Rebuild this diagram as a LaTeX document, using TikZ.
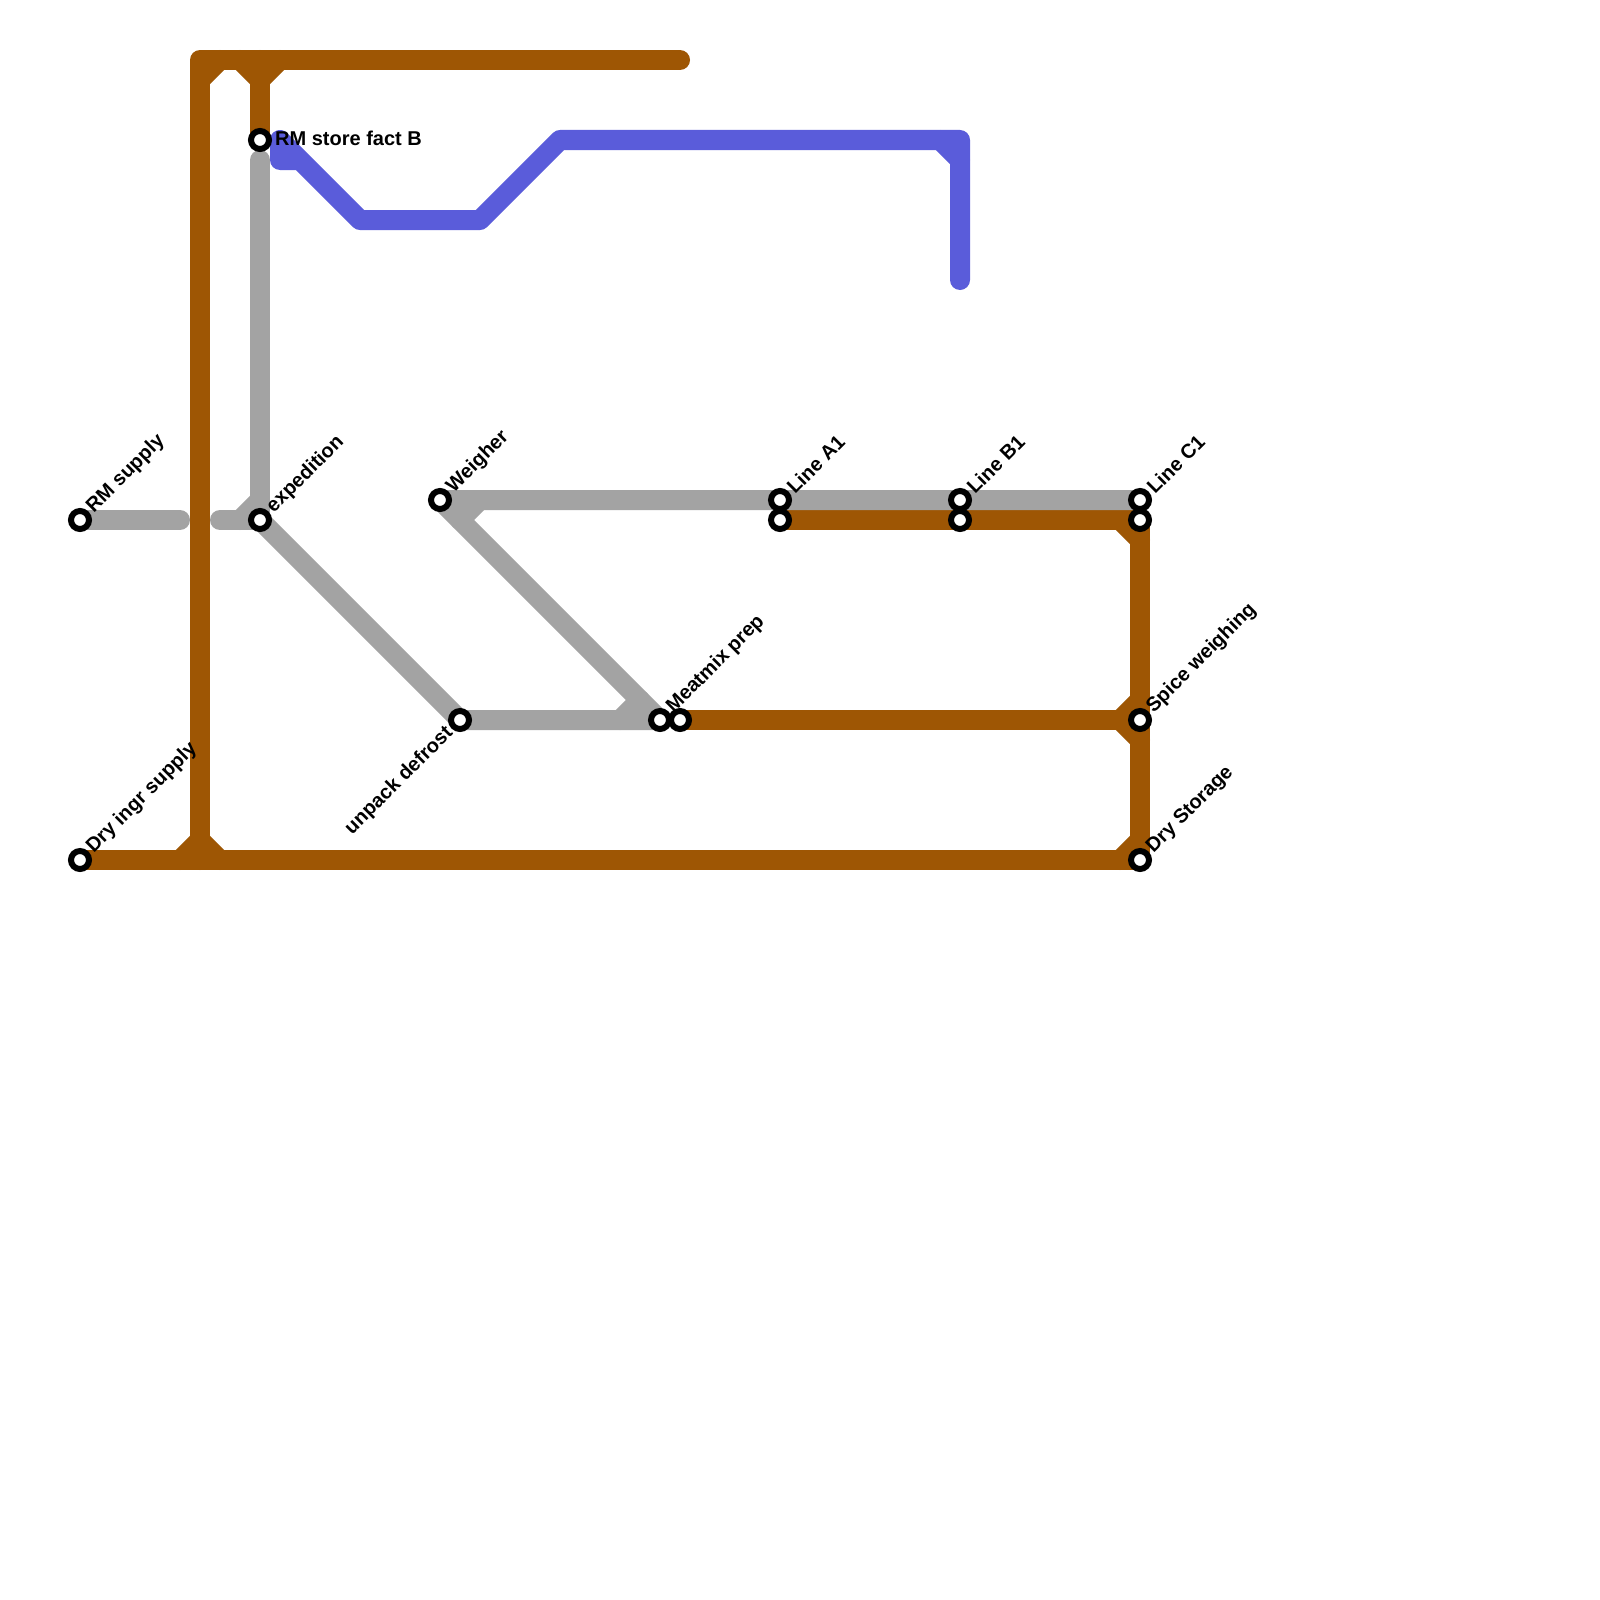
\documentclass[tikz,border=0pt]{standalone}
\usepackage{fontspec}
\setmainfont{Liberation Sans}
\tikzset{
  metro/.style={line width=20pt,line cap=round,line join=round},
  brownline/.style={metro,draw=linebrown},
  greyline/.style={metro,draw=linegrey},
  blueline/.style={metro,draw=lineblue},
  station/.style={circle,draw=black,fill=white,line width=6pt,minimum size=18pt,inner sep=0pt,outer sep=0pt},
  lbl/.style={font=\fontsize{20}{22}\selectfont\bfseries,inner sep=0pt,text=black},
  up/.style={lbl,anchor=west,rotate=45},
}
\definecolor{linebrown}{HTML}{9E5604}
\definecolor{linegrey}{HTML}{A3A3A3}
\definecolor{lineblue}{HTML}{5A5CDA}
\begin{document}
\begin{tikzpicture}[x=1pt,y=-1pt]
\useasboundingbox[fill=white] (0,0) rectangle (1600,1600);
% station positions
\coordinate (RMsupply) at (80,520);
\coordinate (RMstore) at (260,140);
\coordinate (expedition) at (260,520);
\coordinate (weigher) at (440,500);
\coordinate (unpack) at (460,720);
\coordinate (meatG) at (660,720);
\coordinate (meatB) at (680,720);
\coordinate (A1G) at (780,500);
\coordinate (A1B) at (780,520);
\coordinate (B1G) at (960,500);
\coordinate (B1B) at (960,520);
\coordinate (C1G) at (1140,500);
\coordinate (C1B) at (1140,520);
\coordinate (spice) at (1140,720);
\coordinate (dryS) at (1140,860);
\coordinate (dryI) at (80,860);
% brown line vertices
\coordinate (tl) at (200,60);
\coordinate (tr) at (680,60);
\coordinate (bv) at (200,860);
\coordinate (tj) at (260,60);
\coordinate (d1a) at (200,80);
\coordinate (d1b) at (220,60);
\coordinate (d2a) at (240,60);
\coordinate (d2b) at (260,80);
\coordinate (d3b) at (280,60);
\coordinate (d4a) at (180,860);
\coordinate (d4b) at (200,840);
\coordinate (d4c) at (220,860);
\coordinate (d5a) at (1120,520);
\coordinate (d5b) at (1140,540);
\coordinate (d6a) at (1120,720);
\coordinate (d6b) at (1140,700);
\coordinate (d6c) at (1140,740);
\coordinate (d7a) at (1120,860);
\coordinate (d7b) at (1140,840);
% grey line vertices
\coordinate (g1) at (180,520);
\coordinate (g2) at (220,520);
\coordinate (g3) at (240,520);
\coordinate (g4) at (260,500);
\coordinate (g5) at (260,160);
\coordinate (g6) at (460,520);
\coordinate (g7) at (480,500);
\coordinate (g8) at (620,720);
\coordinate (g9) at (640,700);
% blue line vertices
\coordinate (b1) at (280,140);
\coordinate (b2) at (280,160);
\coordinate (b3) at (300,160);
\coordinate (b4) at (360,220);
\coordinate (b5) at (480,220);
\coordinate (b6) at (560,140);
\coordinate (b7) at (960,140);
\coordinate (b8) at (960,280);
\coordinate (b9) at (940,140);
\coordinate (b10) at (960,160);
% brown
\draw[brownline] (tr) -- (tl) -- (bv);
\draw[brownline] (dryI) -- (dryS) -- (C1B) -- (A1B);
\draw[brownline] (tj) -- (RMstore);
\draw[brownline] (meatB) -- (spice);
\draw[brownline] (d1a) -- (d1b);
\draw[brownline] (d2a) -- (d2b) -- (d3b);
\draw[brownline] (d4a) -- (d4b) -- (d4c);
\draw[brownline] (d5a) -- (d5b);
\draw[brownline] (d6b) -- (d6a) -- (d6c);
\draw[brownline] (d7a) -- (d7b);
% grey
\draw[greyline] (RMsupply) -- (g1);
\draw[greyline] (g2) -- (expedition) -- (g5);
\draw[greyline] (g3) -- (g4);
\draw[greyline] (expedition) -- (unpack) -- (meatG) -- (weigher) -- (C1G);
\draw[greyline] (g6) -- (g7);
\draw[greyline] (g8) -- (g9);
% blue
\draw[blueline] (b4) -- (b1) -- (b2) -- (b3) -- (b4) -- (b5) -- (b6) -- (b7) -- (b8);
\draw[blueline] (b9) -- (b10);
% stations
\foreach \s in {RMsupply,RMstore,expedition,weigher,unpack,meatG,meatB,A1G,A1B,B1G,B1B,C1G,C1B,spice,dryS,dryI}
  \node[station] (n\s) at (\s) {};
% labels
\node[up] (tRMsupply) at ([shift={(10,-10)}]RMsupply) {RM supply};
\node[lbl,anchor=west] (tRMstore) at ([shift={(15,-2)}]RMstore) {RM store fact B};
\node[up] (texpedition) at ([shift={(10,-10)}]expedition) {expedition};
\node[up] (tweigher) at ([shift={(10,-10)}]weigher) {Weigher};
\node[lbl,anchor=east,rotate=45] (tunpack) at ([shift={(-10,10)}]unpack) {unpack defrost};
\node[up] (tmeat) at ([shift={(10,-10)}]meatG) {Meatmix prep};
\node[up] (tA1) at ([shift={(10,-10)}]A1G) {Line A1};
\node[up] (tB1) at ([shift={(10,-10)}]B1G) {Line B1};
\node[up] (tC1) at ([shift={(10,-10)}]C1G) {Line C1};
\node[up] (tspice) at ([shift={(10,-10)}]spice) {Spice weighing};
\node[up] (tdryS) at ([shift={(10,-10)}]dryS) {Dry Storage};
\node[up] (tdryI) at ([shift={(10,-10)}]dryI) {Dry ingr supply};
\end{tikzpicture}
\end{document}
